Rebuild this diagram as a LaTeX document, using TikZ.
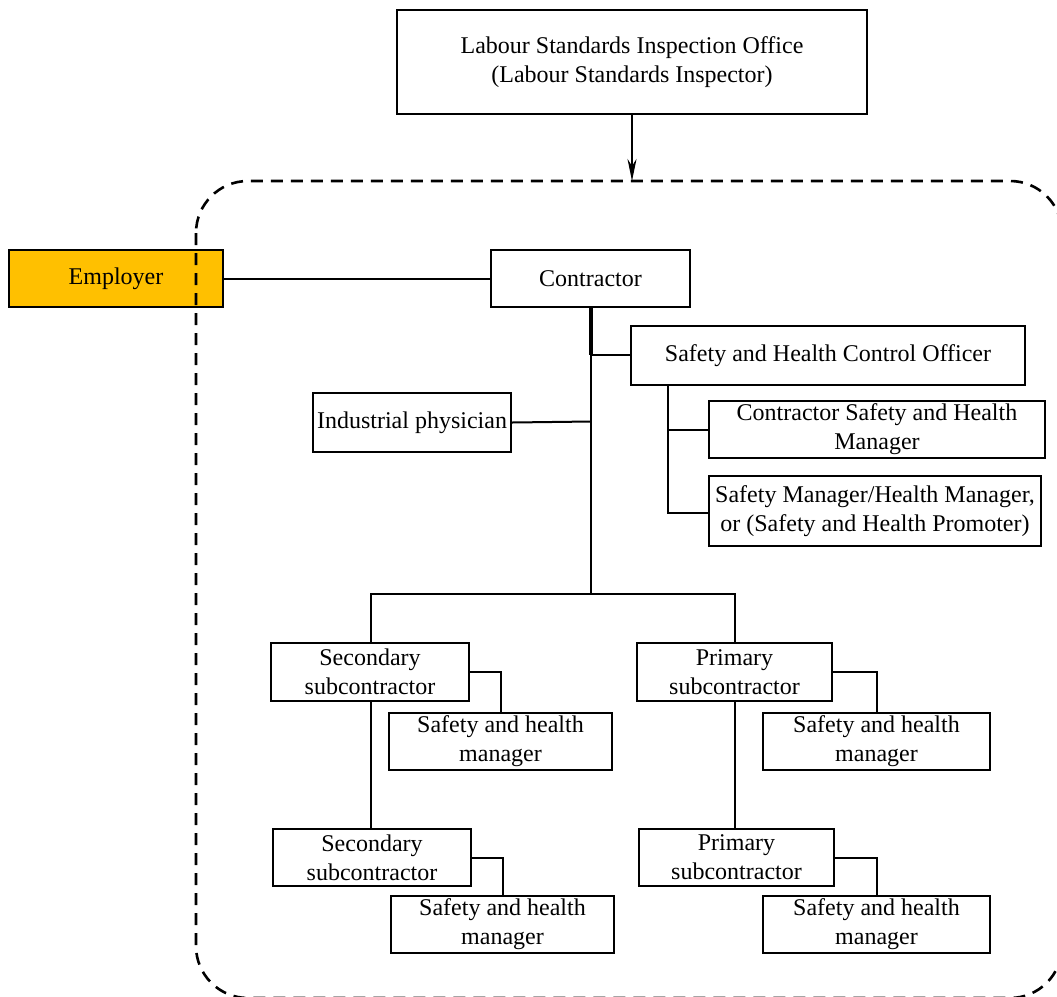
\documentclass[tikz,border=0pt]{standalone}
\usepackage{fontspec}
\setmainfont{Liberation Serif}
\usetikzlibrary{arrows.meta}
\begin{document}
\begin{tikzpicture}[x=1pt,y=-1pt,
  box/.style={draw,line width=2.4pt,fill=white,inner sep=0pt,align=center,
    font=\fontsize{24}{29}\selectfont},
  conn/.style={line width=2pt},
  frame/.style={line width=2.6pt,dash pattern=on 12pt off 8pt,rounded corners=52pt}]
\useasboundingbox (0,0) rectangle (1057,996);

% nodes
\node[box,minimum width=470pt,minimum height=104pt] (lsio) at (632,62)
  {Labour Standards Inspection Office\\(Labour Standards Inspector)};
\node[box,fill={rgb,255:red,255;green,192;blue,0},minimum width=214pt,minimum height=57pt] (emp) at (116,278.5) {Employer};
\node[box,minimum width=199pt,minimum height=57pt] (con) at (590.5,278.5) {Contractor};
\node[box,minimum width=394pt,minimum height=59pt] (shco) at (828,355.5) {Safety and Health Control Officer};
\node[box,minimum width=198pt,minimum height=59pt] (phys) at (412,422.5) {Industrial physician};
\node[box,minimum width=336pt,minimum height=57pt] (cshm) at (877,429.5) {Contractor Safety and Health\\Manager};
\node[box,minimum width=332pt,minimum height=70pt] (sm) at (875,511) {Safety Manager/Health Manager,\\or (Safety and Health Promoter)};

\node[box,minimum width=198pt,minimum height=58pt] (ssa) at (370,672) {Secondary\\subcontractor};
\node[box,minimum width=223pt,minimum height=57pt] (shma) at (500.5,741.5) {Safety and health\\manager};
\node[box,minimum width=198pt,minimum height=57pt] (ssb) at (372,857.5) {Secondary\\subcontractor};
\node[box,minimum width=223pt,minimum height=57pt] (shmb) at (502.5,924.5) {Safety and health\\manager};

\node[box,minimum width=195pt,minimum height=58pt] (psa) at (734.5,672) {Primary\\subcontractor};
\node[box,minimum width=227pt,minimum height=57pt] (shpa) at (876.5,741.5) {Safety and health\\manager};
\node[box,minimum width=195pt,minimum height=57pt] (psb) at (736.5,857.5) {Primary\\subcontractor};
\node[box,minimum width=227pt,minimum height=57pt] (shpb) at (876.5,924.5) {Safety and health\\manager};

% dashed boundary of the contractor's site, drawn over the employer box
\draw[frame] (196,181) rectangle (1062,998);

% junction points
\coordinate (site) at (632,181);
\coordinate (trunk) at (591,355);
\coordinate (fork) at (591,594);
\coordinate (forkl) at (371,594);
\coordinate (forkr) at (735,594);
\coordinate (physj) at (591,421.5);

% connectors
\draw[line width=2pt,-{Stealth[length=22pt,width=9pt,inset=7pt]}] (lsio.south) -- (site);
\draw[conn] (emp.east) -- (con.west);
\draw[line width=4pt] (con.south -| trunk) -- (trunk);
\draw[conn] (trunk) -- (shco.west |- trunk);
\draw[conn] (trunk) -- (fork);
\draw[conn] (phys.east) -- (physj);
\draw[conn] (shco.south -| 668,0) -- (668,513) -- (sm.west |- 0,513);
\draw[conn] (668,429.5) -- (cshm.west);

\draw[conn] (ssa.north -| forkl) -- (forkl) -- (forkr) -- (psa.north -| forkr);
\draw[conn] (ssa.south -| forkl) -- (ssb.north -| forkl);
\draw[conn] (psa.south -| forkr) -- (psb.north -| forkr);

\draw[conn] (ssa.east) -| (shma.north);
\draw[conn] (ssb.east) -| (shmb.north);
\draw[conn] (psa.east) -| (shpa.north);
\draw[conn] (psb.east) -| (shpb.north);
\end{tikzpicture}
\end{document}
